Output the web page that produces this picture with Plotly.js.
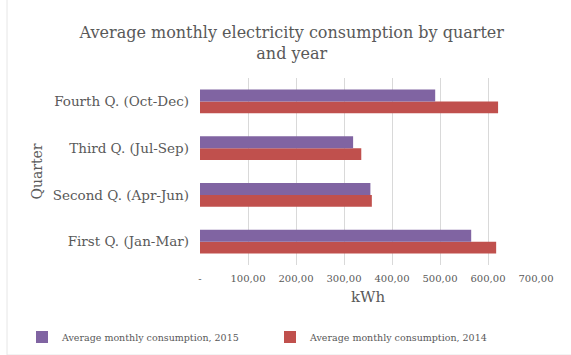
<!DOCTYPE html>
<html>
<head>
<meta charset="utf-8">
<script src="https://cdn.plot.ly/plotly-3.0.1.min.js"></script>
<style>html,body{margin:0;padding:0;background:#fff;}#chart{width:571px;height:355px;}</style>
</head>
<body>
<div id="chart"></div>
<script>
const quarters = ["First Q. (Jan-Mar)", "Second Q. (Apr-Jun)", "Third Q. (Jul-Sep)", "Fourth Q. (Oct-Dec)"];
const consumption2015 = [565, 355, 319, 490];
const consumption2014 = [617, 358, 336, 621];
const seriesNames = ["Average monthly consumption, 2015", "Average monthly consumption, 2014"];
const xTickValues = [0, 100, 200, 300, 400, 500, 600, 700];
const xTickLabels = ["-", "100,00", "200,00", "300,00", "400,00", "500,00", "600,00", "700,00"];

const font = "DejaVu Serif, Liberation Serif, serif";
const traces = [
  {type: "bar", orientation: "h", name: seriesNames[1], y: quarters, x: consumption2014,
   marker: {color: "#C0504D"}},
  {type: "bar", orientation: "h", name: seriesNames[0], y: quarters, x: consumption2015,
   marker: {color: "#8064A2"}}
];
const PH = 187;
const layout = {
  width: 571, height: 355,
  margin: {l: 200, r: 35, t: 78, b: 90, autoexpand: false},
  paper_bgcolor: "#fff", plot_bgcolor: "#fff",
  font: {family: font, color: "#595959", size: 11},
  title: {text: "Average monthly electricity consumption by quarter<br>and year",
          font: {family: font, size: 16, color: "#595959"},
          xref: "container", x: 0.511, xanchor: "center", yref: "container", y: 0.893, yanchor: "middle"},
  barmode: "group", bargap: 0.49, bargroupgap: 0,
  xaxis: {range: [0, 700], tickvals: xTickValues, ticktext: xTickLabels, showgrid: true,
          gridcolor: "#d9d9d9", gridwidth: 1, zeroline: false, showline: false, ticks: "",
          ticklabelstandoff: 6,
          tickfont: {size: 10}, title: {text: "kWh", font: {size: 15, color: "#595959"}, standoff: 8}},
  yaxis: {type: "category", categoryorder: "array", categoryarray: quarters, showgrid: false,
          zeroline: false, showline: false, ticks: "", tickfont: {size: 13.5}, ticklabelstandoff: 10,
          title: {text: "Quarter", font: {size: 14, color: "#595959"}, standoff: 6}},
  legend: {orientation: "h", traceorder: "reversed", xref: "paper", yref: "paper",
           x: (22 - 200) / 336, xanchor: "left", y: (265 - 337) / PH, yanchor: "middle",
           font: {size: 9.5, color: "#595959"}, entrywidth: 203, entrywidthmode: "pixels"},
  shapes: [{type: "rect", xref: "paper", yref: "paper", x0: -193/336, x1: 534/336, y0: -90/PH, y1: 272/PH,
            line: {color: "#e6e6e6", width: 1}}],
  showlegend: true
};
Plotly.newPlot("chart", traces, layout, {displayModeBar: false, staticPlot: true});
</script>
</body>
</html>
